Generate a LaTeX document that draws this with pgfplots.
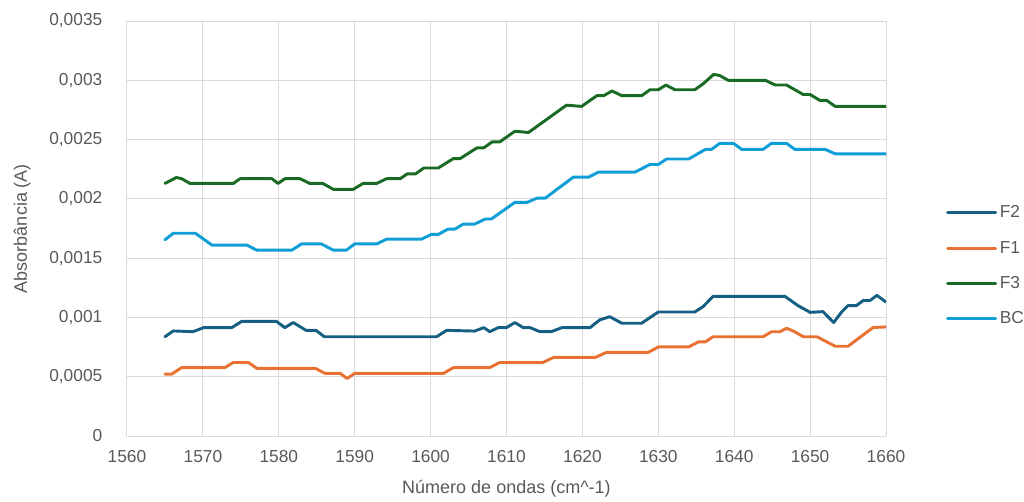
\documentclass[border=0pt]{standalone}
\usepackage{pgfplots}
\pgfplotsset{compat=1.18}
\usepackage{fontspec}
\setmainfont{Liberation Sans}
\definecolor{cF2}{HTML}{156082}
\definecolor{cF1}{HTML}{E97132}
\definecolor{cF3}{HTML}{196B24}
\definecolor{cBC}{HTML}{0F9ED5}
\definecolor{txt}{HTML}{595959}
\definecolor{gridc}{HTML}{D9D9D9}
\begin{document}
\begin{tikzpicture}
\path[use as bounding box] (-95.25pt,-48.75pt) rectangle (672.75pt,327pt);
\begin{axis}[
  scale only axis,
  width=569.25pt, height=311.25pt,
  xmin=1560, xmax=1660, ymin=0, ymax=0.0035,
  xtick={1560,1570,1580,1590,1600,1610,1620,1630,1640,1650,1660},
  xticklabels={1560,1570,1580,1590,1600,1610,1620,1630,1640,1650,1660},
  ytick={0,0.0005,0.001,0.0015,0.002,0.0025,0.003,0.0035},
  yticklabels={0,{0,0005},{0,001},{0,0015},{0,002},{0,0025},{0,003},{0,0035}},
  scaled y ticks=false,
  major tick length=0pt,
  grid=major,
  major grid style={gridc, line width=0.75pt},
  axis line style={gridc, line width=0.75pt},
  axis x line*=bottom, axis y line*=left,
  tick label style={font=\fontsize{13}{15}\selectfont, text=txt},
  yticklabel style={xshift=-15pt},
  xticklabel style={yshift=-7pt},
  xlabel={Número de ondas (cm\textasciicircum-1)},
  ylabel={Absorbância (A)},
  label style={font=\fontsize{13.5}{16}\selectfont, text=txt},
  xlabel style={at={(axis description cs:0.5,-0.128)}, anchor=center},
  ylabel style={at={(axis description cs:-0.138,0.5)}, anchor=center},
  legend style={at={(1.079,0.41)}, anchor=west, draw=none, fill=none,
    font=\fontsize{13}{15}\selectfont, text=txt, row sep=12pt, inner sep=0pt,
    nodes={inner sep=2pt}},
  legend cell align=left,
  legend image code/.code={\draw[#1] (0pt,0pt) -- (36pt,0pt);},
  every axis plot/.append style={line width=2.2pt, line join=round, line cap=round, mark=none},
]
\addplot[cF2] coordinates {
(1565.0,0.000837) (1566.1,0.000886) (1568.7,0.00088) (1570.1,0.000914) (1573.8,0.000914)
(1575.1,0.000966) (1579.7,0.000966) (1580.8,0.000914) (1581.9,0.000957) (1583.6,0.000891)
(1584.9,0.000891) (1586.0,0.000837) (1600.8,0.000837) (1602.1,0.000891) (1605.8,0.000885)
(1607.0,0.000914) (1607.8,0.00088) (1608.9,0.000914) (1610.0,0.000914) (1611.1,0.000957)
(1612.2,0.000914) (1613.1,0.000914) (1614.4,0.00088) (1615.9,0.00088) (1617.3,0.000914)
(1621.0,0.000914) (1622.3,0.00098) (1623.6,0.001006) (1625.2,0.000951) (1627.8,0.000951)
(1630.0,0.001046) (1634.8,0.001046) (1635.9,0.001091) (1637.2,0.001177) (1646.7,0.001177)
(1648.4,0.0011) (1650.0,0.001043) (1651.7,0.001049) (1653.1,0.000957) (1654.2,0.001049)
(1655.0,0.0011) (1656.1,0.0011) (1657.0,0.001143) (1657.9,0.001143) (1658.8,0.001186)
(1660.0,0.00113)
};
\addlegendentry{F2}
\addplot[cF1] coordinates {
(1565.0,0.000522) (1565.9,0.000522) (1567.2,0.000577) (1572.9,0.000577) (1574.0,0.00062)
(1576.0,0.00062) (1577.1,0.000571) (1584.8,0.000571) (1586.1,0.000528) (1588.1,0.000528)
(1589.0,0.000485) (1590.0,0.000528) (1601.7,0.000528) (1603.0,0.000577) (1607.8,0.000577)
(1609.1,0.00062) (1614.8,0.00062) (1616.2,0.000663) (1621.7,0.000663) (1623.2,0.000706)
(1628.7,0.000706) (1630.0,0.000751) (1634.0,0.000751) (1635.3,0.000794) (1636.2,0.000794)
(1637.2,0.000837) (1643.8,0.000837) (1644.9,0.000879) (1646.0,0.000879) (1646.9,0.000908)
(1647.8,0.000885) (1649.1,0.000837) (1650.9,0.000837) (1653.3,0.000757) (1655.0,0.000757)
(1658.3,0.000915) (1660.0,0.00092)
};
\addlegendentry{F1}
\addplot[cF3] coordinates {
(1565.0,0.00213) (1566.5,0.00218) (1567.2,0.00217) (1568.3,0.00213) (1574.0,0.00213)
(1574.9,0.00217) (1579.1,0.00217) (1579.9,0.00213) (1580.8,0.00217) (1582.8,0.00217)
(1584.1,0.00213) (1585.8,0.00213) (1587.2,0.00208) (1589.8,0.00208) (1591.1,0.00213)
(1592.9,0.00213) (1594.2,0.00217) (1596.0,0.00217) (1596.9,0.00221) (1598.0,0.00221)
(1599.1,0.00226) (1601.0,0.00226) (1603.0,0.00234) (1603.9,0.00234) (1606.1,0.00243)
(1607.0,0.00243) (1608.1,0.00248) (1609.1,0.00248) (1611.1,0.00257) (1612.9,0.00256)
(1617.9,0.00279) (1619.9,0.00278) (1621.9,0.00287) (1622.8,0.00287) (1623.9,0.00291)
(1625.2,0.00287) (1627.8,0.00287) (1628.9,0.00292) (1630.0,0.00292) (1631.0,0.00296)
(1632.2,0.00292) (1634.8,0.00292) (1635.9,0.00297) (1637.3,0.00305) (1638.1,0.00304)
(1639.2,0.00300) (1644.1,0.00300) (1645.4,0.00296) (1646.9,0.00296) (1649.1,0.00288)
(1650.0,0.00288) (1651.3,0.00283) (1652.2,0.00283) (1653.3,0.00278) (1660.0,0.00278)
};
\addlegendentry{F3}
\addplot[cBC] coordinates {
(1565.0,0.001655) (1566.1,0.00171) (1569.0,0.00171) (1571.2,0.00161) (1575.8,0.00161)
(1577.1,0.001567) (1581.7,0.001567) (1583.0,0.00162) (1585.6,0.00162) (1587.2,0.001567)
(1588.9,0.001567) (1590.0,0.00162) (1592.9,0.00162) (1594.2,0.00166) (1598.8,0.00166)
(1600.1,0.0017) (1601.0,0.0017) (1602.3,0.001745) (1603.2,0.001745) (1604.3,0.001787)
(1605.8,0.001787) (1607.2,0.00183) (1608.0,0.00183) (1611.1,0.00197) (1612.7,0.00197)
(1614.0,0.002006) (1615.1,0.002006) (1618.8,0.002183) (1620.8,0.002183) (1622.1,0.002225)
(1626.9,0.002225) (1628.9,0.00229) (1630.0,0.00229) (1631.1,0.002336) (1634.0,0.002336)
(1636.2,0.002417) (1637.0,0.002417) (1638.1,0.002468) (1639.9,0.002468) (1641.0,0.002417)
(1643.8,0.002417) (1644.9,0.002468) (1646.9,0.002468) (1648.0,0.002417) (1652.0,0.002417)
(1653.3,0.00238) (1660.0,0.00238)
};
\addlegendentry{BC}
\end{axis}
\end{tikzpicture}
\end{document}
